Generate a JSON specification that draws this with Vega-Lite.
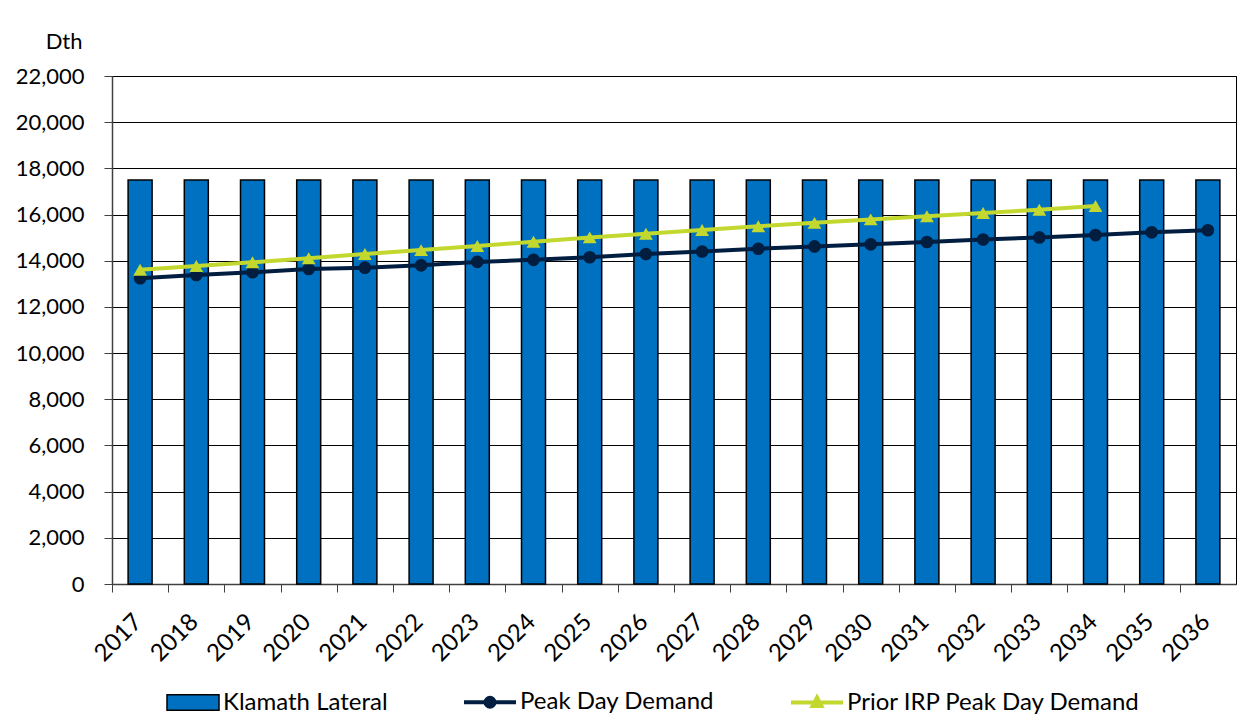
{
  "$schema": "https://vega.github.io/schema/vega-lite/v6.json",
  "width": 1124,
  "height": 508,
  "autosize": {"type": "none"},
  "padding": {"left": 112, "top": 76, "right": 10, "bottom": 139},
  "background": "white",
  "config": {
    "font": "Lato",
    "view": {"stroke": "#000000", "strokeWidth": 1},
    "axis": {"labelFont": "Lato", "labelFontSize": 22, "labelColor": "#000000", "titleFont": "Lato", "titleColor": "#000000"}
  },
  "data": {
    "values": [
      {"year": "2017", "series": "Klamath Lateral", "value": 17500},
      {"year": "2018", "series": "Klamath Lateral", "value": 17500},
      {"year": "2019", "series": "Klamath Lateral", "value": 17500},
      {"year": "2020", "series": "Klamath Lateral", "value": 17500},
      {"year": "2021", "series": "Klamath Lateral", "value": 17500},
      {"year": "2022", "series": "Klamath Lateral", "value": 17500},
      {"year": "2023", "series": "Klamath Lateral", "value": 17500},
      {"year": "2024", "series": "Klamath Lateral", "value": 17500},
      {"year": "2025", "series": "Klamath Lateral", "value": 17500},
      {"year": "2026", "series": "Klamath Lateral", "value": 17500},
      {"year": "2027", "series": "Klamath Lateral", "value": 17500},
      {"year": "2028", "series": "Klamath Lateral", "value": 17500},
      {"year": "2029", "series": "Klamath Lateral", "value": 17500},
      {"year": "2030", "series": "Klamath Lateral", "value": 17500},
      {"year": "2031", "series": "Klamath Lateral", "value": 17500},
      {"year": "2032", "series": "Klamath Lateral", "value": 17500},
      {"year": "2033", "series": "Klamath Lateral", "value": 17500},
      {"year": "2034", "series": "Klamath Lateral", "value": 17500},
      {"year": "2035", "series": "Klamath Lateral", "value": 17500},
      {"year": "2036", "series": "Klamath Lateral", "value": 17500},
      {"year": "2017", "series": "Peak Day Demand", "value": 13240},
      {"year": "2018", "series": "Peak Day Demand", "value": 13380},
      {"year": "2019", "series": "Peak Day Demand", "value": 13500},
      {"year": "2020", "series": "Peak Day Demand", "value": 13640},
      {"year": "2021", "series": "Peak Day Demand", "value": 13700},
      {"year": "2022", "series": "Peak Day Demand", "value": 13800},
      {"year": "2023", "series": "Peak Day Demand", "value": 13950},
      {"year": "2024", "series": "Peak Day Demand", "value": 14040},
      {"year": "2025", "series": "Peak Day Demand", "value": 14150},
      {"year": "2026", "series": "Peak Day Demand", "value": 14290},
      {"year": "2027", "series": "Peak Day Demand", "value": 14400},
      {"year": "2028", "series": "Peak Day Demand", "value": 14520},
      {"year": "2029", "series": "Peak Day Demand", "value": 14620},
      {"year": "2030", "series": "Peak Day Demand", "value": 14710},
      {"year": "2031", "series": "Peak Day Demand", "value": 14810},
      {"year": "2032", "series": "Peak Day Demand", "value": 14920},
      {"year": "2033", "series": "Peak Day Demand", "value": 15010},
      {"year": "2034", "series": "Peak Day Demand", "value": 15110},
      {"year": "2035", "series": "Peak Day Demand", "value": 15230},
      {"year": "2036", "series": "Peak Day Demand", "value": 15320},
      {"year": "2017", "series": "Prior IRP Peak Day Demand", "value": 13610},
      {"year": "2018", "series": "Prior IRP Peak Day Demand", "value": 13770},
      {"year": "2019", "series": "Prior IRP Peak Day Demand", "value": 13930},
      {"year": "2020", "series": "Prior IRP Peak Day Demand", "value": 14110},
      {"year": "2021", "series": "Prior IRP Peak Day Demand", "value": 14290},
      {"year": "2022", "series": "Prior IRP Peak Day Demand", "value": 14460},
      {"year": "2023", "series": "Prior IRP Peak Day Demand", "value": 14640},
      {"year": "2024", "series": "Prior IRP Peak Day Demand", "value": 14820},
      {"year": "2025", "series": "Prior IRP Peak Day Demand", "value": 15010},
      {"year": "2026", "series": "Prior IRP Peak Day Demand", "value": 15170},
      {"year": "2027", "series": "Prior IRP Peak Day Demand", "value": 15330},
      {"year": "2028", "series": "Prior IRP Peak Day Demand", "value": 15490},
      {"year": "2029", "series": "Prior IRP Peak Day Demand", "value": 15640},
      {"year": "2030", "series": "Prior IRP Peak Day Demand", "value": 15790},
      {"year": "2031", "series": "Prior IRP Peak Day Demand", "value": 15930},
      {"year": "2032", "series": "Prior IRP Peak Day Demand", "value": 16070},
      {"year": "2033", "series": "Prior IRP Peak Day Demand", "value": 16210},
      {"year": "2034", "series": "Prior IRP Peak Day Demand", "value": 16370}
    ]
  },
  "encoding": {
    "x": {
      "field": "year",
      "type": "ordinal",
      "scale": {"type": "band", "paddingInner": 0.573, "paddingOuter": 0.2865},
      "axis": {
        "title": null,
        "labelAngle": -45,
        "labelAlign": "right",
        "labelBaseline": "middle",
        "labelPadding": 26,
        "labelFontSize": 24,
        "bandPosition": 0,
        "tickOffset": -16.1,
        "labelOffset": 14,
        "tickSize": 8,
        "tickColor": "#404040",
        "domainColor": "#404040",
        "domainWidth": 1.5,
        "grid": false
      }
    },
    "y": {
      "field": "value",
      "type": "quantitative",
      "scale": {"domain": [0, 22000], "nice": false, "zero": true},
      "axis": {
        "title": "Dth",
        "titleAngle": 0,
        "titleAlign": "right",
        "titleBaseline": "alphabetic",
        "titleX": -30,
        "titleY": -28,
        "titleFontSize": 22,
        "titleFontWeight": "normal",
        "values": [0, 2000, 4000, 6000, 8000, 10000, 12000, 14000, 16000, 18000, 20000, 22000],
        "format": ",d",
        "labelPadding": 20,
        "tickSize": 8,
        "tickColor": "#404040",
        "domainColor": "#404040",
        "domainWidth": 1.5,
        "grid": true,
        "gridColor": "#000000",
        "gridWidth": 1
      }
    }
  },
  "layer": [
    {
      "transform": [{"filter": "datum.series === 'Klamath Lateral'"}],
      "mark": {"type": "bar", "color": "#0070C0", "stroke": "#000000", "strokeWidth": 1.5}
    },
    {
      "transform": [{"filter": "datum.series === 'Peak Day Demand'"}],
      "mark": {"type": "line", "color": "#011E41", "strokeWidth": 4}
    },
    {
      "transform": [{"filter": "datum.series === 'Peak Day Demand'"}],
      "mark": {"type": "point", "shape": "circle", "filled": true, "color": "#011E41", "opacity": 1, "size": 160}
    },
    {
      "transform": [{"filter": "datum.series === 'Prior IRP Peak Day Demand'"}],
      "mark": {"type": "line", "color": "#C3D82E", "strokeWidth": 4}
    },
    {
      "transform": [{"filter": "datum.series === 'Prior IRP Peak Day Demand'"}],
      "mark": {"type": "point", "shape": "triangle-up", "filled": true, "color": "#C3D82E", "opacity": 1, "size": 190}
    },
    {
      "mark": {"type": "point", "filled": true, "opacity": 0, "size": 2704},
      "encoding": {
        "color": {
          "field": "series",
          "type": "nominal",
          "scale": {"domain": ["Klamath Lateral", "Peak Day Demand", "Prior IRP Peak Day Demand"], "range": ["#0070C0", "#011E41", "#C3D82E"]},
          "legend": {
            "title": null,
            "orient": "none",
            "legendX": 69,
            "legendY": 614,
            "direction": "horizontal",
            "columns": 3,
            "symbolSize": 2704,
            "labelFont": "Lato",
            "labelFontSize": 24,
            "labelColor": "#000000",
            "labelOffset": 18,
            "labelLimit": 500,
            "columnPadding": 68,
            "encode": {
              "symbols": {
                "update": {
                  "opacity": {"value": 1},
                  "fillOpacity": {"value": 1},
                  "fill": {"signal": "datum.value === 'Klamath Lateral' ? '#0070C0' : (datum.value === 'Peak Day Demand' ? '#011E41' : '#C3D82E')"},
                  "stroke": {"signal": "datum.value === 'Klamath Lateral' ? '#000000' : (datum.value === 'Peak Day Demand' ? '#011E41' : '#C3D82E')"},
                  "strokeWidth": {"signal": "datum.value === 'Klamath Lateral' ? 1.5 : 4"}
                }
              }
            }
          }
        },
        "shape": {
          "field": "series",
          "type": "nominal",
          "scale": {
            "domain": ["Klamath Lateral", "Peak Day Demand", "Prior IRP Peak Day Demand"],
            "range": [
              "M-1,-0.3L1,-0.3L1,0.3L-1,0.3Z",
              "M-1,0L1,0M0.17,0A0.17,0.17 0 1,1 -0.17,0A0.17,0.17 0 1,1 0.17,0Z",
              "M-1,0L1,0M0,-0.19L0.17,0.13L-0.17,0.13Z"
            ]
          },
          "legend": {
            "title": null,
            "orient": "none",
            "legendX": 69,
            "legendY": 614,
            "direction": "horizontal",
            "columns": 3,
            "symbolSize": 2704,
            "labelFont": "Lato",
            "labelFontSize": 24,
            "labelColor": "#000000",
            "labelOffset": 18,
            "labelLimit": 500,
            "columnPadding": 68
          }
        }
      }
    }
  ]
}
